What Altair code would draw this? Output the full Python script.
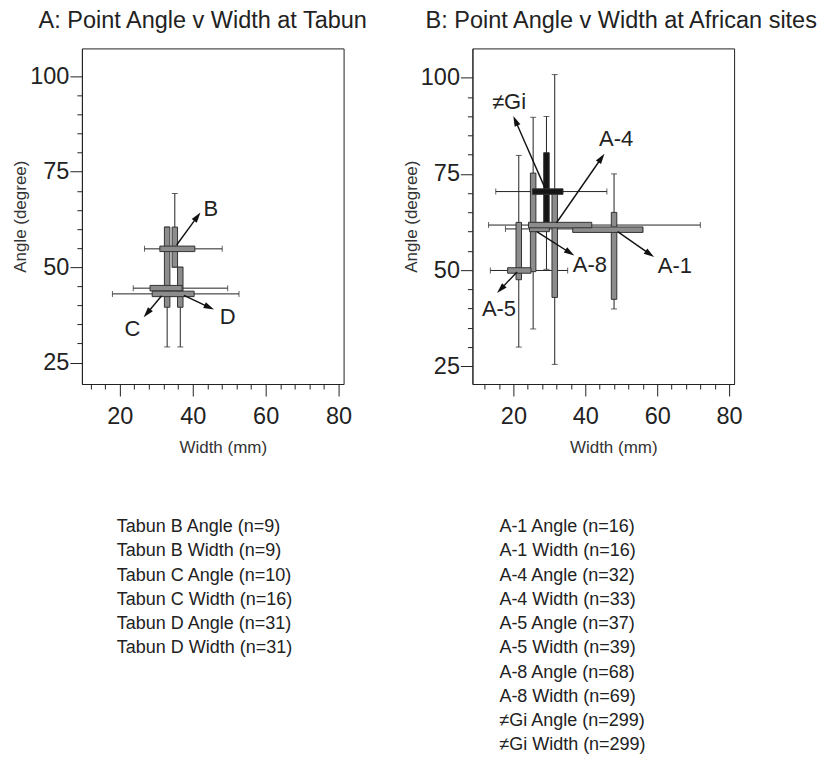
import math
import altair as alt
import pandas as pd

FONT = "Liberation Sans"
INK = "#222222"
GREY = "#8c8c8c"

# ---------------- Panel A: Tabun ----------------
a_groups = ["B", "C", "D"]
a_mean_w = [35.1, 33.0, 36.6]
a_mean_a = [54.8, 44.5, 43.0]
a_ang_min = [50.0, 29.1, 29.1]
a_ang_max = [69.3, 60.5, 50.0]
a_ang_lo = [50.0, 39.5, 39.5]
a_ang_hi = [60.5, 60.5, 50.0]
a_wid_min = [26.8, 23.7, 18.0]
a_wid_max = [48.1, 49.6, 52.7]
a_wid_lo = [31.0, 28.3, 28.9]
a_wid_hi = [40.6, 37.1, 40.4]

a_arrow_x1 = [35.6, 31.5, 37.6]
a_arrow_y1 = [55.8, 42.5, 42.6]
a_arrow_x2 = [42.1, 26.6, 45.8]
a_arrow_y2 = [64.3, 36.9, 38.9]
a_label_x = [45.0, 23.5, 49.6]
a_label_y = [65.3, 33.9, 36.9]

# ---------------- Panel B: African sites ----------------
b_groups = ["A-5", "A-8", "A-1", "A-4", "≠Gi"]
b_mean_w = [21.5, 25.5, 48.0, 31.5, 29.2]
b_mean_a = [49.9, 60.7, 60.5, 61.7, 70.4]
b_ang_min = [30.0, 34.7, 39.9, 25.5, 50.2]
b_ang_max = [79.8, 89.7, 75.0, 100.8, 89.9]
b_ang_lo = [47.5, 49.6, 42.4, 42.9, 62.2]
b_ang_hi = [62.4, 75.2, 65.0, 70.2, 80.5]
b_wid_min = [13.6, 17.8, 39.5, 13.1, 15.1]
b_wid_max = [35.1, 39.5, 56.0, 72.0, 46.0]
b_wid_lo = [18.4, 24.5, 36.5, 24.2, 25.3]
b_wid_hi = [24.9, 30.0, 56.0, 41.8, 33.8]

b_arrow_x1 = [21.0, 26.5, 49.0, 32.0, 28.8]
b_arrow_y1 = [49.5, 60.0, 60.0, 62.3, 71.3]
b_arrow_x2 = [15.5, 36.9, 59.1, 45.3, 20.0]
b_arrow_y2 = [44.1, 53.8, 53.4, 80.2, 90.0]
b_label_x = [16.0, 41.3, 64.9, 48.6, 18.8]
b_label_y = [39.9, 51.3, 51.1, 84.0, 93.7]

list_a = [
    "Tabun B Angle (n=9)",
    "Tabun B Width (n=9)",
    "Tabun C Angle (n=10)",
    "Tabun C Width (n=16)",
    "Tabun D Angle (n=31)",
    "Tabun D Width (n=31)",
]
list_b = [
    "A-1 Angle (n=16)",
    "A-1 Width (n=16)",
    "A-4 Angle (n=32)",
    "A-4 Width (n=33)",
    "A-5 Angle (n=37)",
    "A-5 Width (n=39)",
    "A-8 Angle (n=68)",
    "A-8 Width (n=69)",
    "≠Gi  Angle (n=299)",
    "≠Gi Width (n=299)",
]

ARROW = "M0,-1L0.6,1L-0.6,1Z"


def make_panel(groups, mw, ma, amin, amax, alo, ahi, wmin, wmax, wlo, whi,
               ax1, ay1, ax2, ay2, lx, ly, xdom, ydom, w, h, title, tdx, toff):
    df = pd.DataFrame({
        "g": groups, "mw": mw, "ma": ma, "amin": amin, "amax": amax,
        "alo": alo, "ahi": ahi, "wmin": wmin, "wmax": wmax, "wlo": wlo, "whi": whi,
    })
    px = w / (xdom[1] - xdom[0])
    py = h / (ydom[1] - ydom[0])
    hx, hy, ang = [], [], []
    r = math.sqrt(110) / 2
    for x1, y1, x2, y2 in zip(ax1, ay1, ax2, ay2):
        dxp = (x2 - x1) * px
        dyp = (y2 - y1) * py
        th = math.atan2(dxp, dyp)
        ang.append(math.degrees(th) % 360)
        hx.append(x2 - r * math.sin(th) / px)
        hy.append(y2 - r * math.cos(th) / py)
    arr = pd.DataFrame({"x1": ax1, "y1": ay1, "x2": ax2, "y2": ay2,
                        "hx": hx, "hy": hy, "ang": ang,
                        "lx": lx, "ly": ly, "lab": groups})

    xaxis = alt.Axis(
        values=list(range(12, 81, 4)),
        labelExpr="datum.value % 20 === 0 ? datum.label : ''",
        tickSize={"condition": {"test": "datum.value % 20 === 0", "value": 12}, "value": 5},
        title="Width (mm)", grid=False, domain=True, domainColor=INK, tickColor=INK,
        labelFont=FONT, labelFontSize=23.5, labelColor=INK, labelPadding=9,
        titleFont=FONT, titleFontSize=17, titleFontWeight="normal", titleColor="#333",
        titlePadding=11, labelFlush=False, titleX=w / 2 + 10,
    )
    yaxis = alt.Axis(
        values=list(range(25, 101, 5)),
        labelExpr="datum.value % 25 === 0 ? datum.label : ''",
        tickSize={"condition": {"test": "datum.value % 25 === 0", "value": 12}, "value": 5},
        title="Angle (degree)", grid=False, domain=True, domainColor=INK, tickColor=INK,
        labelFont=FONT, labelFontSize=23.5, labelColor=INK, labelPadding=1,
        titleFont=FONT, titleFontSize=17, titleFontWeight="normal", titleColor="#333",
        titlePadding=0, labelFlush=False,
    )
    xs = alt.Scale(domain=xdom, nice=False, zero=False)
    ys = alt.Scale(domain=ydom, nice=False, zero=False)

    def X(f):
        return alt.X(f, type="quantitative", scale=xs, axis=xaxis)

    def Y(f):
        return alt.Y(f, type="quantitative", scale=ys, axis=yaxis)

    base = alt.Chart(df)
    fill = alt.condition(alt.datum.g == "≠Gi", alt.value("#151515"), alt.value(GREY))

    v_whisk = base.mark_rule(color=INK, strokeWidth=1).encode(x=X("mw"), y=Y("amin"), y2="amax")
    h_whisk = base.mark_rule(color=INK, strokeWidth=1).encode(y=Y("ma"), x=X("wmin"), x2="wmax")
    v_box = base.mark_bar(orient="vertical", size=5.5, stroke="#333", strokeWidth=1).encode(
        x=X("mw"), y=Y("alo"), y2="ahi", fill=fill)
    h_box = base.mark_bar(orient="horizontal", size=5.5, stroke="#333", strokeWidth=1).encode(
        y=Y("ma"), x=X("wlo"), x2="whi", fill=fill)
    cap_lo = base.mark_tick(orient="horizontal", size=6, thickness=1, color=INK).encode(x=X("mw"), y=Y("amin"))
    cap_hi = base.mark_tick(orient="horizontal", size=6, thickness=1, color=INK).encode(x=X("mw"), y=Y("amax"))
    cap_l = base.mark_tick(orient="vertical", size=6, thickness=1, color=INK).encode(x=X("wmin"), y=Y("ma"))
    cap_r = base.mark_tick(orient="vertical", size=6, thickness=1, color=INK).encode(x=X("wmax"), y=Y("ma"))

    abase = alt.Chart(arr)
    shaft = abase.mark_rule(color="#111", strokeWidth=1.4).encode(x=X("x1"), y=Y("y1"), x2="hx", y2="hy")
    head = abase.mark_point(shape=ARROW, filled=True, size=110, color="#111", opacity=1).encode(
        x=X("hx"), y=Y("hy"), angle=alt.Angle("ang:Q", scale=None))
    labels = abase.mark_text(font=FONT, fontSize=22, color=INK, align="center", baseline="middle").encode(
        x=X("lx"), y=Y("ly"), text="lab:N")

    layer = alt.layer(
        v_whisk, h_whisk, cap_lo, cap_hi, cap_l, cap_r, v_box, h_box, shaft, head, labels
    ).properties(
        width=w, height=h,
        title=alt.Title(title, font=FONT, fontSize=23.5, fontWeight="normal", color=INK,
                        anchor="middle", frame="group", dx=tdx, offset=toff),
    )
    return layer


def make_list(lines, xoff, width):
    df = pd.DataFrame({"t": lines, "i": list(range(len(lines)))})
    return alt.Chart(df).mark_text(align="left", baseline="middle", font=FONT, fontSize=18,
                                   color=INK).encode(
        y=alt.Y("i:O", axis=None),
        x=alt.value(xoff),
        text="t:N",
    ).properties(width=width, height=alt.Step(24.3),
                 view=alt.ViewBackground(stroke="transparent"))


panel_a = make_panel(a_groups, a_mean_w, a_mean_a, a_ang_min, a_ang_max, a_ang_lo, a_ang_hi,
                     a_wid_min, a_wid_max, a_wid_lo, a_wid_hi,
                     a_arrow_x1, a_arrow_y1, a_arrow_x2, a_arrow_y2, a_label_x, a_label_y,
                     [11, 80], [20.7, 106.0], 262, 336,
                     "A: Point Angle v Width at Tabun", -10, 15.5)
panel_b = make_panel(b_groups, b_mean_w, b_mean_a, b_ang_min, b_ang_max, b_ang_lo, b_ang_hi,
                     b_wid_min, b_wid_max, b_wid_lo, b_wid_hi,
                     b_arrow_x1, b_arrow_y1, b_arrow_x2, b_arrow_y2, b_label_x, b_label_y,
                     [10, 80], [21.7, 106.3], 262, 336,
                     "B: Point Angle v Width at African sites", 18, 15.5)

col_a = alt.vconcat(panel_a, make_list(list_a, 35, 200), spacing=58)
col_b = alt.vconcat(panel_b, make_list(list_b, 27, 200), spacing=58)

chart = alt.hconcat(col_a, col_b, spacing=33).properties(
    padding={"left": 3, "top": 0, "right": 0, "bottom": 5}
).configure_view(stroke=INK, strokeWidth=1)

chart.save("out.html", embed_options={"renderer": "svg", "actions": False})
